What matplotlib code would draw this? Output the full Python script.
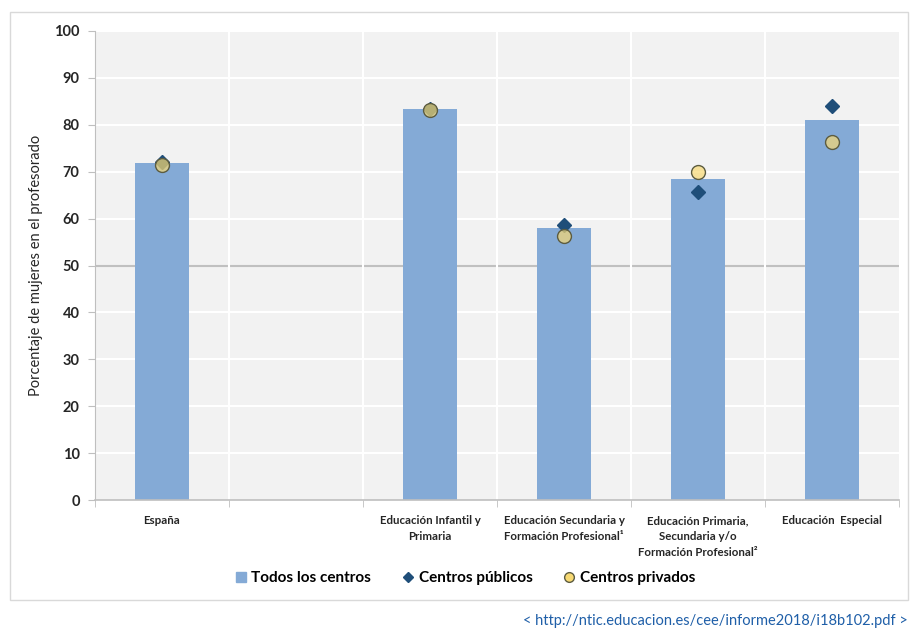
import numpy as np
import matplotlib
matplotlib.use("Agg")
import matplotlib.pyplot as plt
from matplotlib.lines import Line2D
from matplotlib.patches import Rectangle

plt.rcParams['font.family'] = ['Lato', 'DejaVu Sans']

categories = ["España", "",
              "Educación Infantil y\nPrimaria",
              "Educación Secundaria y\nFormación Profesional¹",
              "Educación Primaria,\nSecundaria y/o\nFormación Profesional²",
              "Educación  Especial"]
todos = [71.9, np.nan, 83.4, 58.0, 68.4, 81.0]
publicos = [72.0, np.nan, 83.3, 58.6, 65.7, 84.0]
privados = [71.5, np.nan, 83.2, 56.3, 69.9, 76.3]
yticks = [0, 10, 20, 30, 40, 50, 60, 70, 80, 90, 100]

fig = plt.figure(figsize=(9.14, 6.29), dpi=100)
fig.patches.append(Rectangle((10/914, 1-600/629), 898/914, 588/629,
                             transform=fig.transFigure, fill=False,
                             edgecolor='#d9d9d9', linewidth=1.0))
ax = fig.add_axes([95/914, 1-500/629, 804/914, 469/629])
ax.set_facecolor('#f2f2f2')

x = np.arange(len(categories))
ax.bar(x, todos, width=0.40, color='#84aad6', zorder=2)
ax.plot(x, publicos, linestyle='none', marker='D', markersize=7.5,
        color='#1f4e79', markeredgecolor='#1f4e79', zorder=3)
ax.plot(x, privados, linestyle='none', marker='o', markersize=10,
        markerfacecolor=(0.97, 0.85, 0.45, 0.7), markeredgecolor='#5c5c40',
        markeredgewidth=1.0, zorder=4)

ax.set_xlim(-0.5, len(categories) - 0.5)
ax.set_ylim(0, 100)
ax.set_yticks(yticks)
ax.set_yticklabels([str(v) for v in yticks], fontsize=10.5, fontweight='bold', color='#262626')
ax.set_xticks(x)
ax.set_xticklabels(categories, fontsize=8.3, fontweight='bold', color='#262626',
                   linespacing=1.55)
ax.tick_params(axis='x', length=0, pad=11)
ax.set_xticks(np.arange(-0.5, len(categories), 1.0), minor=True)
ax.tick_params(axis='x', which='minor', length=5, color='#bfbfbf', direction='out')
ax.tick_params(axis='y', length=5, color='#bfbfbf', direction='out', pad=6)

for v in yticks:
    if v in (0, 50):
        continue
    ax.axhline(v, color='white', linewidth=1.5, zorder=1)
ax.axhline(50, color='#c0c0c0', linewidth=1.5, zorder=1)
for b in np.arange(0.5, len(categories) - 1, 1.0):
    ax.axvline(b, color='white', linewidth=1.5, zorder=1)

for s in ['top', 'right']:
    ax.spines[s].set_visible(False)
ax.spines['left'].set_color('#bfbfbf')
ax.spines['bottom'].set_color('#bfbfbf')
ax.spines['bottom'].set_linewidth(1.2)

ax.set_ylabel("Porcentaje de mujeres en el profesorado", fontsize=10.5, color='#262626', labelpad=8)

handles = [Line2D([], [], linestyle='none', marker='s', markersize=7, color='#84aad6'),
           Line2D([], [], linestyle='none', marker='D', markersize=5, color='#1f4e79'),
           Line2D([], [], linestyle='none', marker='o', markersize=7,
                  markerfacecolor=(0.97, 0.85, 0.45), markeredgecolor='#5c5c40')]
fig.legend(handles, ["Todos los centros", "Centros públicos", "Centros privados"],
           loc='center', bbox_to_anchor=(465/914, 1-578/629), ncol=3, frameon=False,
           handlelength=0.8, handletextpad=0.3, columnspacing=2.0,
           prop={'weight': 'bold', 'size': 11})

fig.text(908/914, 1-621/629, "< http://ntic.educacion.es/cee/informe2018/i18b102.pdf >",
         ha='right', va='center', fontsize=10.5, color='#1f5fa8')

fig.savefig("out.png", dpi=100, facecolor='white')
